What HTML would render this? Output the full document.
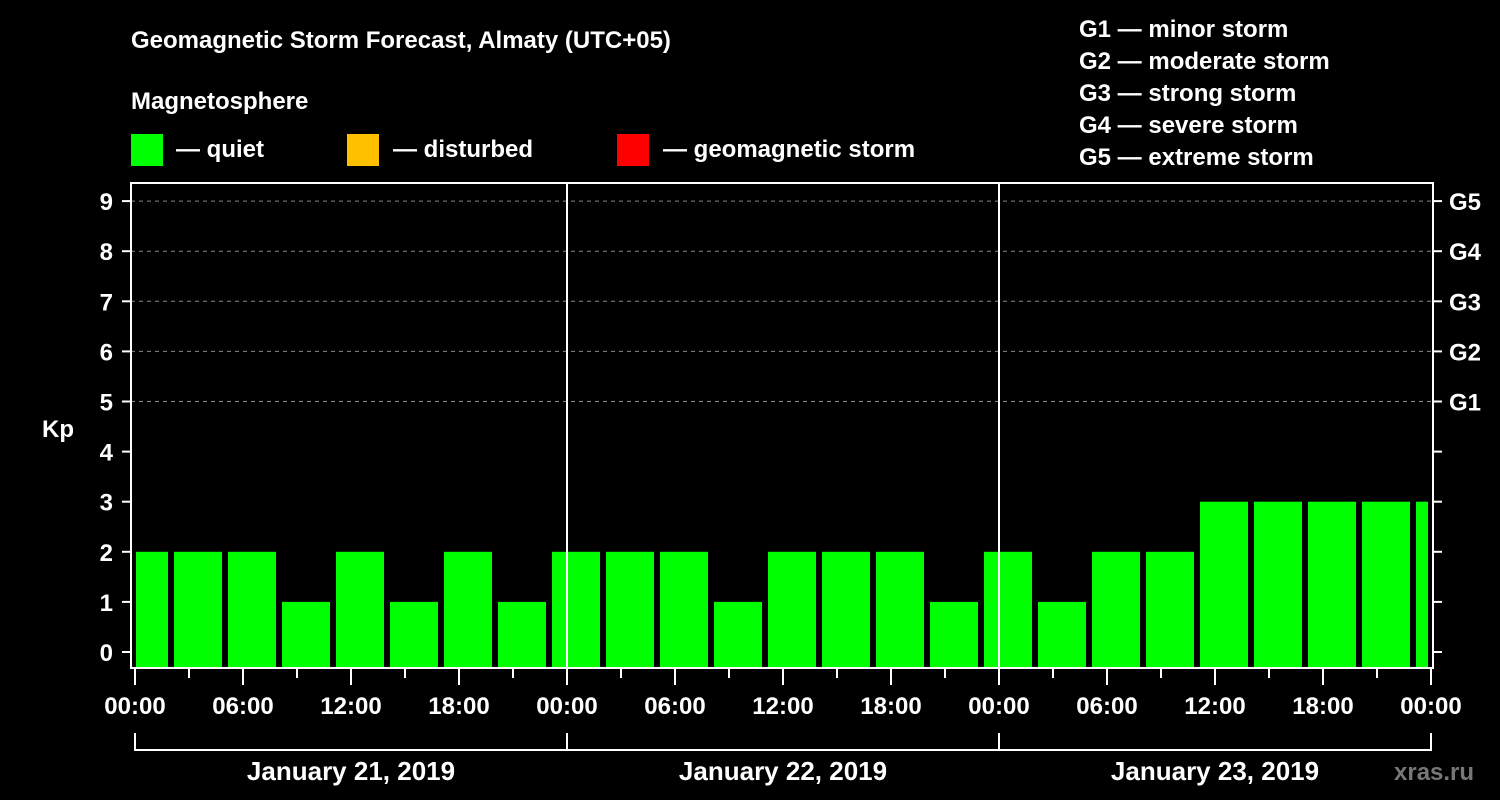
<!DOCTYPE html>
<html><head><meta charset="utf-8"><style>
html,body{margin:0;padding:0;background:#000;width:1500px;height:800px;overflow:hidden}
svg text{font-family:"Liberation Sans",Arial,sans-serif;font-weight:bold;fill:#fff}
</style></head><body>
<svg id="c" width="1500" height="800" xmlns="http://www.w3.org/2000/svg">
<rect width="1500" height="800" fill="#000"/>
<text x="131" y="48" font-size="24">Geomagnetic Storm Forecast, Almaty (UTC+05)</text>
<text x="131" y="109" font-size="24">Magnetosphere</text>
<g><rect x="131" y="134" width="32" height="32" fill="#00ff00"/><text x="176" y="157" font-size="24">— quiet</text></g>
<g><rect x="347" y="134" width="32" height="32" fill="#ffc000"/><text x="393" y="157" font-size="24">— disturbed</text></g>
<g><rect x="617" y="134" width="32" height="32" fill="#ff0000"/><text x="663" y="157" font-size="24">— geomagnetic storm</text></g>
<g font-size="24">
<text x="1079" y="37">G1 — minor storm</text>
<text x="1079" y="69">G2 — moderate storm</text>
<text x="1079" y="101">G3 — strong storm</text>
<text x="1079" y="133">G4 — severe storm</text>
<text x="1079" y="165">G5 — extreme storm</text>
</g>
<text x="42" y="437" font-size="24">Kp</text>
<g id="grid"></g><g id="bars"></g><g id="axes"></g>
<text x="1394" y="780" font-size="24" fill="#777" style="fill:#777">xras.ru</text>
</svg>
<script>
const kpValues=[2,2,2,1,2,1,2,1,2,2,2,1,2,2,2,1,2,1,2,2,3,3,3,3,3];
const barStartHours=[-1,2,5,8,11,14,17,20,23,26,29,32,35,38,41,44,47,50,53,56,59,62,65,68,71];
const yTicks=[0,1,2,3,4,5,6,7,8,9];
const gLabels=["G1","G2","G3","G4","G5"];
const xTickLabels=["00:00","06:00","12:00","18:00"];
const dayLabels=["January 21, 2019","January 22, 2019","January 23, 2019"];
const NS="http://www.w3.org/2000/svg";
const X0=135,PXH=18,L=131,R=1433,T=183,B=668,HMAX=72;
const x=h=>X0+h*PXH;
const y=v=>652-v*50.1;
function mk(p,t,a){const e=document.createElementNS(NS,t);for(const k in a)e.setAttribute(k,a[k]);p.appendChild(e);return e;}
const grid=document.getElementById('grid'),bars=document.getElementById('bars'),axes=document.getElementById('axes');
for(let v=5;v<=9;v++){const l=mk(grid,'line',{x1:L,x2:R,y1:y(v),y2:y(v),stroke:'#888','stroke-dasharray':'4,4','stroke-width':1});

}
kpValues.forEach((v,i)=>{const s=Math.max(0,barStartHours[i]),e=Math.min(HMAX,barStartHours[i]+3);
let x1=x(s)+(barStartHours[i]<0?1:3),x2=x(e)-(barStartHours[i]+3>HMAX?3:3);
if(barStartHours[i]+3>HMAX)x2=x(e)-3;
const r=mk(bars,'rect',{x:x1,y:y(v),width:x2-x1,height:B-y(v),fill:v>=5?'#ff0000':(v>=4?'#ffc000':'#00ff00')});

});
const fr=mk(axes,'rect',{x:L,y:T,width:R-L,height:B-T,fill:'none',stroke:'#fff','stroke-width':2});


for(let d=1;d<3;d++){const l=mk(axes,'line',{x1:x(d*24),x2:x(d*24),y1:T,y2:B,stroke:'#fff','stroke-width':2});

}
yTicks.forEach(v=>{mk(axes,'line',{x1:122,x2:L,y1:y(v),y2:y(v),stroke:'#fff','stroke-width':2});
mk(axes,'line',{x1:R,x2:1442,y1:y(v),y2:y(v),stroke:'#fff','stroke-width':2});
const t=mk(axes,'text',{x:113,y:y(v)+9,'font-size':24,'text-anchor':'end'});t.textContent=v;

});
gLabels.forEach((g,i)=>{const t=mk(axes,'text',{x:1449,y:y(5+i)+9,'font-size':24});t.textContent=g;

});
for(let h=0;h<=HMAX;h+=3){const long=h%6==0;mk(axes,'line',{x1:x(h),x2:x(h),y1:B,y2:long?685:678,stroke:'#fff','stroke-width':2});
if(long){const t=mk(axes,'text',{x:x(h),y:714,'font-size':24,'text-anchor':'middle'});t.textContent=xTickLabels[(h/6)%4];

}}
mk(axes,'line',{x1:x(0),x2:x(HMAX),y1:750,y2:750,stroke:'#fff','stroke-width':2});
for(let d=0;d<=3;d++)mk(axes,'line',{x1:x(d*24),x2:x(d*24),y1:733,y2:751,stroke:'#fff','stroke-width':2});
dayLabels.forEach((s,d)=>{const t=mk(axes,'text',{x:x(d*24+12),y:780,'font-size':26,'text-anchor':'middle'});t.textContent=s;

});
</script>
</body></html>
